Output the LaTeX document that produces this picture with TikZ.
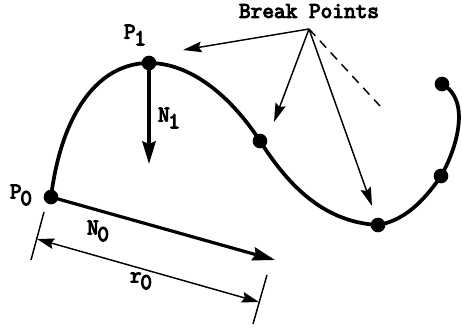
\documentclass[tikz,border=0pt]{standalone}
\usepackage{fontspec}
\newfontfamily\lblfont[FakeBold=4.5]{Latin Modern Mono}
\usetikzlibrary{arrows.meta}
\newcommand{\sublbl}[2]{#1\kern-1pt\lower5pt\hbox{#2}}

\begin{document}
\begin{tikzpicture}[x=0.75pt, y=-0.75pt,
  brk/.style={circle, fill=black, inner sep=0pt, minimum size=11pt},
  lbl/.style={inner sep=0pt, font=\fontsize{17}{19}\selectfont\lblfont},
  curve/.style={line width=2.8pt, line cap=round},
  heavy arr/.style={-{Stealth[length=17pt, width=10pt, inset=2pt]}, line width=2.4pt},
  thin arr/.style={-{Stealth[length=14pt, width=8pt, inset=2pt]}, line width=1.1pt},
  tick/.style={line width=1.1pt}
]
  \useasboundingbox (0,0) rectangle (462,328);

  % points on the curve
  \node[brk] (P0) at (51,197) {};
  \node[brk] (P1) at (149,63) {};
  \node[brk] (B2) at (260,141) {};
  \node[brk] (B3) at (378,225) {};
  \node[brk] (B4) at (441,176) {};
  \node[brk] (B5) at (442,84) {};

  \draw[curve] (P0.center) .. controls (62,110) and (100,63) .. (P1.center)
    .. controls (190,63) and (230,95) .. (B2.center)
    .. controls (285,180) and (320,222) .. (B3.center)
    .. controls (408,220) and (428,195) .. (B4.center)
    .. controls (456,150) and (472,100) .. (B5.center);

  % free ends
  \coordinate (apex) at (309,29);
  \coordinate (tipA) at (183,50);
  \coordinate (tipB) at (274,122);
  \coordinate (tipC) at (372,206);
  \coordinate (dashEnd) at (380,106);
  \coordinate (tipN1) at (149,164);
  \coordinate (tipN0) at (275,260);
  \coordinate (rA) at (37,239);
  \coordinate (rB) at (259,302);
  \coordinate (tickA1) at (44,212);
  \coordinate (tickA2) at (31,260);
  \coordinate (tickB1) at (267,275);
  \coordinate (tickB2) at (253,324);

  \foreach \to in {tipA, tipB, tipC}
    \draw[thin arr] (apex) -- (\to);
  \draw[tick, dash pattern=on 7pt off 5pt] (apex) -- (dashEnd);

  \draw[heavy arr] (P1.center) -- (tipN1);
  \draw[heavy arr] (P0.center) -- (tipN0);
  \draw[thin arr, {Stealth[length=13pt, width=8pt, inset=2pt]}-{Stealth[length=13pt, width=8pt, inset=2pt]}] (rA) -- (rB);
  \draw[tick] (tickA1) -- (tickA2);
  \draw[tick] (tickB1) -- (tickB2);

  % labels
  \node[lbl] (title) at (309,11) {Break Points};
  \node[lbl] (lP1) at (135,35) {\sublbl{P}{1}};
  \node[lbl] (lP0) at (21,195) {\sublbl{P}{0}};
  \node[lbl] (lN1) at (169,118) {\sublbl{N}{1}};
  \node[lbl] (lN0) at (98,231) {\sublbl{N}{0}};
  \node[lbl] (lr0) at (141,281) {\sublbl{r}{0}};
\end{tikzpicture}
\end{document}
